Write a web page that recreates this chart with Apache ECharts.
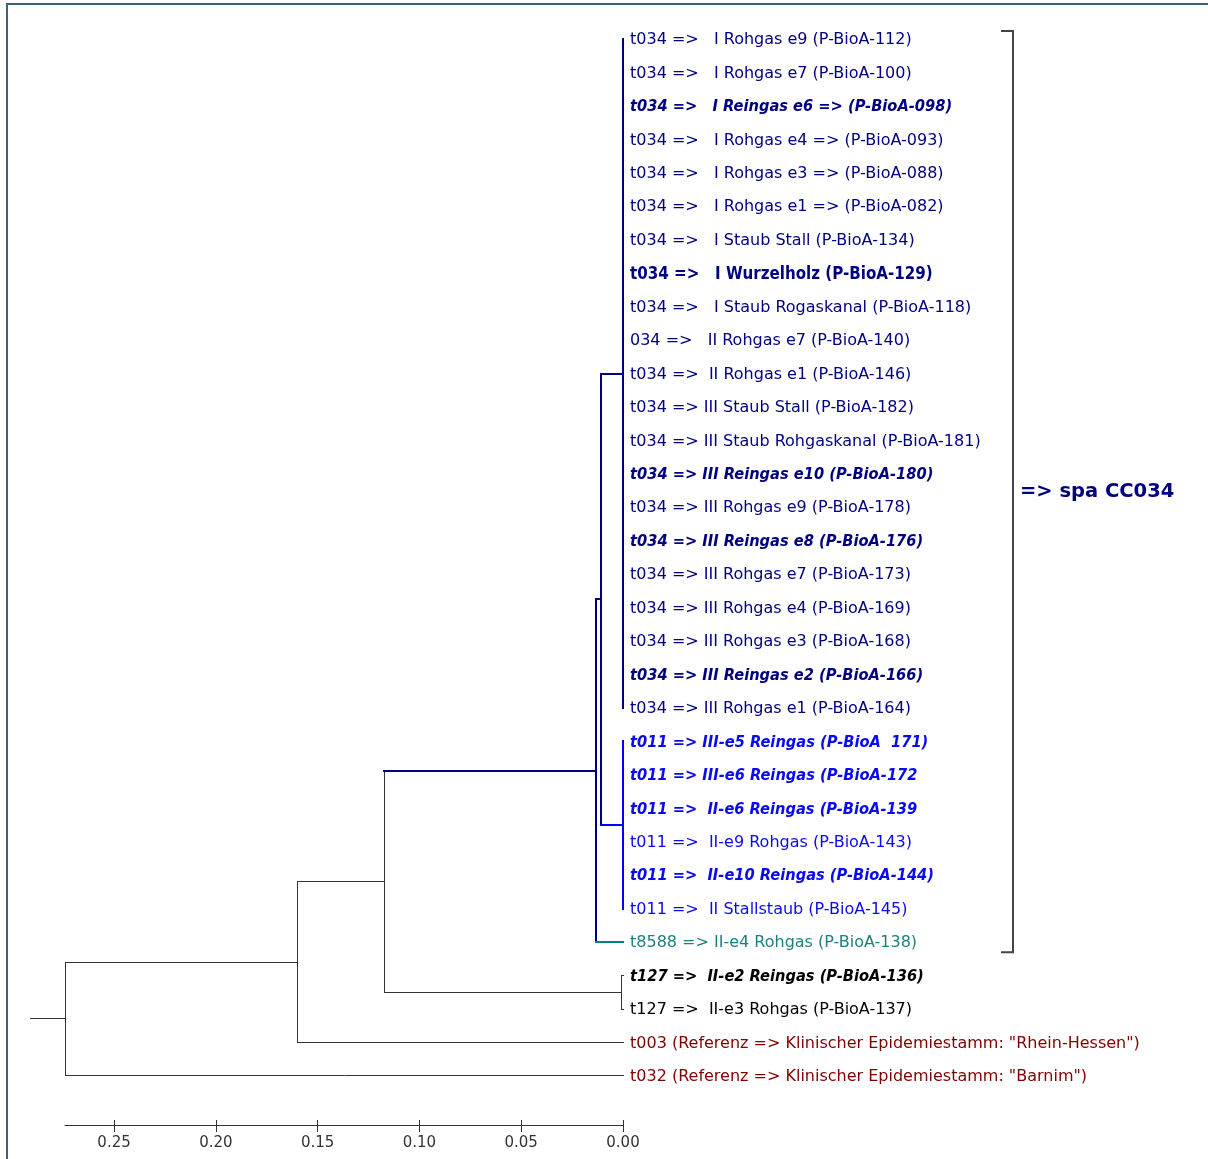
<!DOCTYPE html>
<html>
<head>
<meta charset="utf-8">
<script src="https://cdn.jsdelivr.net/npm/echarts@6/dist/echarts.min.js"></script>
<style>
html, body { margin: 0; padding: 0; background: #fff; }
#chart { width: 1208px; height: 1159px; }
</style>
</head>
<body>
<div id="chart"></div>
<script>
// leaves, top to bottom
var leafLabels = [
    't034 =>   I Rohgas e9 (P-BioA-112)',
    't034 =>   I Rohgas e7 (P-BioA-100)',
    't034 =>   I Reingas e6 => (P-BioA-098)',
    't034 =>   I Rohgas e4 => (P-BioA-093)',
    't034 =>   I Rohgas e3 => (P-BioA-088)',
    't034 =>   I Rohgas e1 => (P-BioA-082)',
    't034 =>   I Staub Stall (P-BioA-134)',
    't034 =>   I Wurzelholz (P-BioA-129)',
    't034 =>   I Staub Rogaskanal (P-BioA-118)',
    '034 =>   II Rohgas e7 (P-BioA-140)',
    't034 =>  II Rohgas e1 (P-BioA-146)',
    't034 => III Staub Stall (P-BioA-182)',
    't034 => III Staub Rohgaskanal (P-BioA-181)',
    't034 => III Reingas e10 (P-BioA-180)',
    't034 => III Rohgas e9 (P-BioA-178)',
    't034 => III Reingas e8 (P-BioA-176)',
    't034 => III Rohgas e7 (P-BioA-173)',
    't034 => III Rohgas e4 (P-BioA-169)',
    't034 => III Rohgas e3 (P-BioA-168)',
    't034 => III Reingas e2 (P-BioA-166)',
    't034 => III Rohgas e1 (P-BioA-164)',
    't011 => III-e5 Reingas (P-BioA  171)',
    't011 => III-e6 Reingas (P-BioA-172',
    't011 =>  II-e6 Reingas (P-BioA-139',
    't011 =>  II-e9 Rohgas (P-BioA-143)',
    't011 =>  II-e10 Reingas (P-BioA-144)',
    't011 =>  II Stallstaub (P-BioA-145)',
    't8588 => II-e4 Rohgas (P-BioA-138)',
    't127 =>  II-e2 Reingas (P-BioA-136)',
    't127 =>  II-e3 Rohgas (P-BioA-137)',
    't003 (Referenz => Klinischer Epidemiestamm: "Rhein-Hessen")',
    't032 (Referenz => Klinischer Epidemiestamm: "Barnim")'
];
var leafGroups = [
    't034', 't034', 't034', 't034', 't034', 't034', 't034', 't034', 't034', 't034', 't034',
    't034', 't034', 't034', 't034', 't034', 't034', 't034', 't034', 't034', 't034',
    't011', 't011', 't011', 't011', 't011', 't011',
    't8588', 't127', 't127', 'ref', 'ref'
];

// tree nodes: distance where the children join
var nodeHeights = [0, 0, 0.0108, 0.0133, 0.0005, 0.1174, 0.1601, 0.2741];
var nodeChildren = [
    ['L0', 'L1', 'L2', 'L3', 'L4', 'L5', 'L6', 'L7', 'L8', 'L9', 'L10', 'L11', 'L12', 'L13', 'L14', 'L15', 'L16', 'L17', 'L18', 'L19', 'L20'],
    ['L21', 'L22', 'L23', 'L24', 'L25', 'L26'],
    ['N0', 'N1'],
    ['N2', 'L27'],
    ['L28', 'L29'],
    ['N3', 'N4'],
    ['N5', 'L30'],
    ['N6', 'L31']
];
var rootStub = 0.017;
var tickValues = [0, 0.05, 0.10, 0.15, 0.20, 0.25];
var clusterName = '=> spa CC034';
var clusterLeaves = [0, 27];

// styles
var groupStyle = {
    t034: { text: '#000080', line: '#000080', width: 2 },
    t011: { text: '#0a0aee', line: '#0000ff', width: 2 },
    t8588: { text: '#1e7f7f', line: '#008080', width: 2 },
    t127: { text: '#000000', line: '#333333', width: 1 },
    ref: { text: '#800000', line: '#333333', width: 1 }
};
var nodeGroup = ['t034', 't011', 't034', 't034', 't127', 't127', 't127', 't127'];
var leafFont = { 2: 'bi', 7: 'b', 13: 'bi', 15: 'bi', 19: 'bi', 21: 'bi', 22: 'bi', 23: 'bi', 25: 'bi', 28: 'bi' };
var FONT = '"DejaVu Sans", sans-serif';
var BOLD_FONT = '"DejaVu Sans Condensed", "DejaVu Sans", sans-serif';

function pos(id) {
    var k = +id.slice(1);
    if (id[0] === 'L') return { x: 0, y: k };
    var ch = nodeChildren[k];
    return { x: nodeHeights[k], y: (pos(ch[0]).y + pos(ch[ch.length - 1]).y) / 2 };
}

// build segments [x1, y1, x2, y2, group]
var segments = [];
nodeChildren.forEach(function (ch, j) {
    var h = nodeHeights[j];
    var first = pos(ch[0]), last = pos(ch[ch.length - 1]);
    segments.push([h, first.y, h, last.y, nodeGroup[j]]);
    ch.forEach(function (c) {
        var p = pos(c);
        if (p.x !== h) {
            var k = +c.slice(1);
            segments.push([p.x, p.y, h, p.y, c[0] === 'L' ? leafGroups[k] : nodeGroup[k]]);
        }
    });
});
var root = pos('N' + (nodeChildren.length - 1));
segments.push([root.x, root.y, root.x + rootStub, root.y, 'ref']);

function crisp(v, w) {
    return w % 2 ? Math.round(v - 0.5) + 0.5 : Math.round(v);
}

var chart = echarts.init(document.getElementById('chart'));
var gridRect = { left: 65, width: 558, top: 39, height: 1086 };

var option = {
    animation: false,
    backgroundColor: '#fff',
    grid: [
        Object.assign({}, gridRect),
        Object.assign({}, gridRect)
    ],
    xAxis: [
        {
            gridIndex: 0, type: 'value', inverse: true, min: 0, max: root.x, interval: 0.05,
            position: 'bottom',
            splitLine: { show: false },
            axisLine: { onZero: false, lineStyle: { color: '#333', width: 1 } },
            axisTick: { length: 7, customValues: tickValues, lineStyle: { color: '#333' } },
            axisLabel: {
                customValues: tickValues, margin: 11, color: '#333', fontFamily: FONT, fontSize: 15,
                formatter: function (v) { return v.toFixed(2); }
            }
        },
        {
            gridIndex: 1, type: 'value', inverse: true, min: 0, max: root.x, interval: 0.05,
            position: 'bottom',
            splitLine: { show: false },
            axisLine: { show: false, onZero: false },
            axisLabel: { show: false },
            axisTick: { inside: true, length: 5, customValues: tickValues, lineStyle: { color: '#333' } }
        }
    ],
    yAxis: [
        { gridIndex: 0, type: 'value', inverse: true, min: 0, max: leafLabels.length + 0.466, show: false },
        { gridIndex: 1, type: 'value', inverse: true, min: 0, max: leafLabels.length + 0.466, show: false }
    ],
    graphic: [{
        type: 'polyline', silent: true,
        shape: { points: [[7, 1159], [7, 4], [1208, 4]] },
        style: { stroke: '#3b6478', lineWidth: 2, fill: null }
    }],
    series: [
        {
            type: 'custom', name: 'branches', clip: false, silent: true,
            encode: { x: [0, 2], y: [1, 3] },
            data: segments,
            renderItem: function (params, api) {
                var s = groupStyle[segments[params.dataIndex][4]];
                var p1 = api.coord([api.value(0), api.value(1)]);
                var p2 = api.coord([api.value(2), api.value(3)]);
                var w = s.width;
                return {
                    type: 'line',
                    shape: { x1: crisp(p1[0], w), y1: crisp(p1[1], w), x2: crisp(p2[0], w), y2: crisp(p2[1], w) },
                    style: { stroke: s.line, lineWidth: w, lineCap: 'square' }
                };
            }
        },
        {
            type: 'custom', name: 'leaves', clip: false, silent: true,
            data: leafLabels.map(function (l, i) { return [0, i]; }),
            renderItem: function (params, api) {
                var i = params.dataIndex;
                var p = api.coord([api.value(0), api.value(1)]);
                var f = leafFont[i];
                var font = f === 'bi' ? 'italic bold 16.3px ' + BOLD_FONT
                    : f === 'b' ? 'bold 16.8px ' + BOLD_FONT
                    : '16px ' + FONT;
                return {
                    type: 'text',
                    x: p[0] + 7, y: p[1] + 1,
                    style: {
                        text: leafLabels[i], font: font, fill: groupStyle[leafGroups[i]].text,
                        align: 'left', verticalAlign: 'middle'
                    }
                };
            }
        },
        {
            type: 'custom', name: 'cluster', clip: false, silent: true,
            data: [[0, clusterLeaves[0], clusterLeaves[1]]],
            renderItem: function (params, api) {
                var top = api.coord([0, api.value(1)]);
                var bot = api.coord([0, api.value(2)]);
                var x = top[0] + 390;
                var y1 = top[1] - 8, y2 = bot[1] + 10;
                return {
                    type: 'group',
                    children: [
                        {
                            type: 'polyline',
                            shape: { points: [[x - 12, y1], [x, y1], [x, y2], [x - 12, y2]] },
                            style: { stroke: '#444', lineWidth: 2, fill: null }
                        },
                        {
                            type: 'text', x: x + 7, y: (y1 + y2) / 2,
                            style: {
                                text: clusterName, font: 'bold 19.5px ' + FONT, fill: '#000080',
                                align: 'left', verticalAlign: 'middle'
                            }
                        }
                    ]
                };
            }
        }
    ]
};
chart.setOption(option);
</script>
</body>
</html>
